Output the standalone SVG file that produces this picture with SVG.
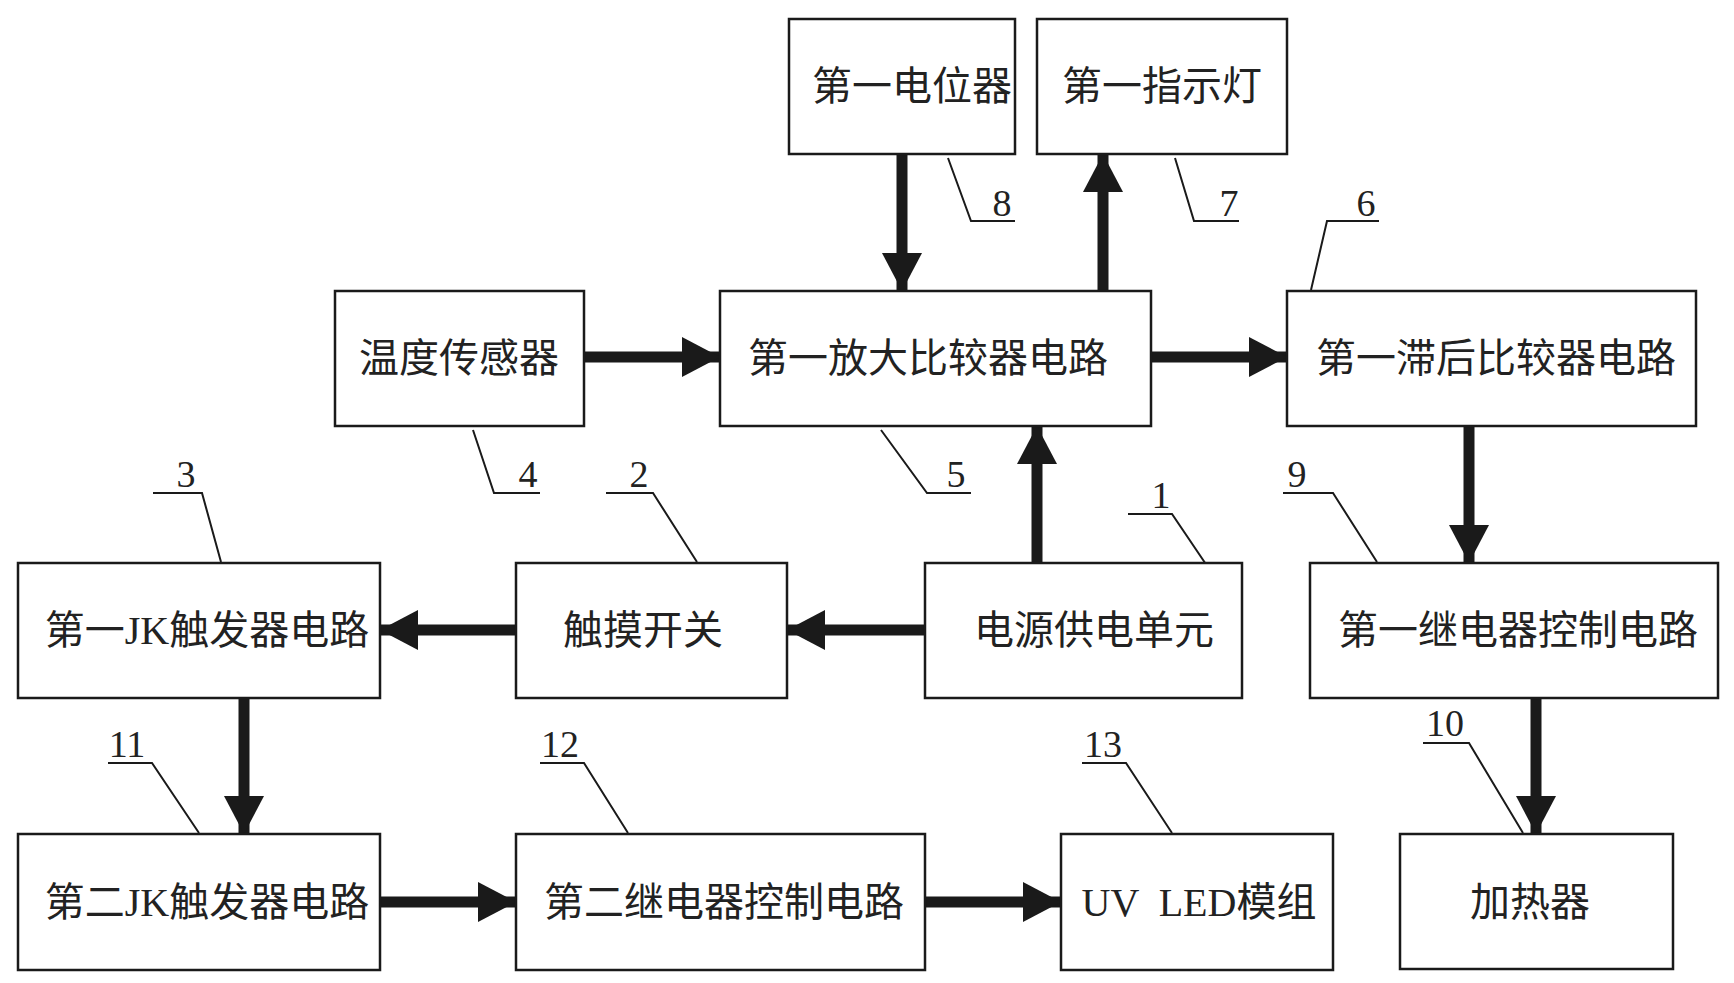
<svg xmlns="http://www.w3.org/2000/svg" width="1734" height="983" viewBox="0 0 1734 983">
<style>
.b{fill:#fff;stroke:#1a1a1a;stroke-width:2.5}
.t{font-family:"Liberation Serif","Noto Sans CJK SC",serif;font-size:40px;fill:#222;text-anchor:middle;dominant-baseline:central}
.n{font-family:"Liberation Serif",serif;font-size:38px;fill:#222;text-anchor:middle}
.a{stroke:#1a1a1a;stroke-width:11;fill:none;marker-end:url(#h)}
.l{stroke:#1a1a1a;stroke-width:2;fill:none}
</style>
<defs><marker id="h" markerUnits="userSpaceOnUse" markerWidth="44" markerHeight="44" refX="38" refY="20" orient="auto"><path d="M0,0 L38,20 L0,40 Z" fill="#1a1a1a"/></marker></defs>
<rect width="1734" height="983" fill="#fff"/>
<g id="connectors">
<line class="a" x1="902" y1="154" x2="902" y2="291"/>
<line class="a" x1="1103" y1="291" x2="1103" y2="154"/>
<line class="a" x1="584" y1="357" x2="720" y2="357"/>
<line class="a" x1="1151" y1="357" x2="1287" y2="357"/>
<line class="a" x1="1037" y1="563" x2="1037" y2="426"/>
<line class="a" x1="1469" y1="426" x2="1469" y2="563"/>
<line class="a" x1="925" y1="630" x2="787" y2="630"/>
<line class="a" x1="516" y1="630" x2="380" y2="630"/>
<line class="a" x1="244" y1="698" x2="244" y2="834"/>
<line class="a" x1="380" y1="902" x2="516" y2="902"/>
<line class="a" x1="925" y1="902" x2="1061" y2="902"/>
<line class="a" x1="1536" y1="698" x2="1536" y2="834"/>
<polyline class="l" points="948,158 971,221 1015,221"/>
<polyline class="l" points="1175,158 1194,221 1239,221"/>
<polyline class="l" points="1311,290 1327,221 1379,221"/>
<polyline class="l" points="473,430 494,493 540,493"/>
<polyline class="l" points="881,430 927,493 971,493"/>
<polyline class="l" points="1128,514 1172,514 1220,585"/>
<polyline class="l" points="153,493 202,493 221,562"/>
<polyline class="l" points="606,493 653,493 697,562"/>
<polyline class="l" points="1283,493 1333,493 1377,562"/>
<polyline class="l" points="108,763 152,763 199,833"/>
<polyline class="l" points="540,763 584,763 628,833"/>
<polyline class="l" points="1082,763 1126,763 1172,833"/>
<polyline class="l" points="1423,743 1469,743 1523,833"/>
</g>
<g id="labels">
<text class="n" x="1002" y="216">8</text>
<text class="n" x="1229" y="216">7</text>
<text class="n" x="1366" y="216">6</text>
<text class="n" x="528" y="487">4</text>
<text class="n" x="956" y="487">5</text>
<text class="n" x="1161" y="508">1</text>
<text class="n" x="186" y="487">3</text>
<text class="n" x="639" y="487">2</text>
<text class="n" x="1297" y="487">9</text>
<text class="n" x="127" y="757">11</text>
<text class="n" x="560" y="757">12</text>
<text class="n" x="1103" y="757">13</text>
<text class="n" x="1445" y="736">10</text>
</g>
<g id="n8"><rect class="b" x="789" y="19" width="226" height="135"/><text class="t" x="912" y="86">第一电位器</text></g>
<g id="n7"><rect class="b" x="1037" y="19" width="250" height="135"/><text class="t" x="1162" y="86">第一指示灯</text></g>
<g id="n4"><rect class="b" x="335" y="291" width="249" height="135"/><text class="t" x="459" y="358">温度传感器</text></g>
<g id="n5"><rect class="b" x="720" y="291" width="431" height="135"/><text class="t" x="928" y="358">第一放大比较器电路</text></g>
<g id="n6"><rect class="b" x="1287" y="291" width="409" height="135"/><text class="t" x="1496" y="358">第一滞后比较器电路</text></g>
<g id="n3"><rect class="b" x="18" y="563" width="362" height="135"/><text class="t" x="207" y="630">第一JK触发器电路</text></g>
<g id="n2"><rect class="b" x="516" y="563" width="271" height="135"/><text class="t" x="643" y="630">触摸开关</text></g>
<g id="n1"><rect class="b" x="925" y="563" width="317" height="135"/><text class="t" x="1094" y="630">电源供电单元</text></g>
<g id="n9"><rect class="b" x="1310" y="563" width="408" height="135"/><text class="t" x="1518" y="630">第一继电器控制电路</text></g>
<g id="n11"><rect class="b" x="18" y="834" width="362" height="136"/><text class="t" x="207" y="902">第二JK触发器电路</text></g>
<g id="n12"><rect class="b" x="516" y="834" width="409" height="136"/><text class="t" x="724" y="902">第二继电器控制电路</text></g>
<g id="n13"><rect class="b" x="1061" y="834" width="272" height="136"/><text class="t" x="1199" y="902" xml:space="preserve">UV  LED模组</text></g>
<g id="n10"><rect class="b" x="1400" y="834" width="273" height="135"/><text class="t" x="1530" y="902">加热器</text></g>
</svg>
